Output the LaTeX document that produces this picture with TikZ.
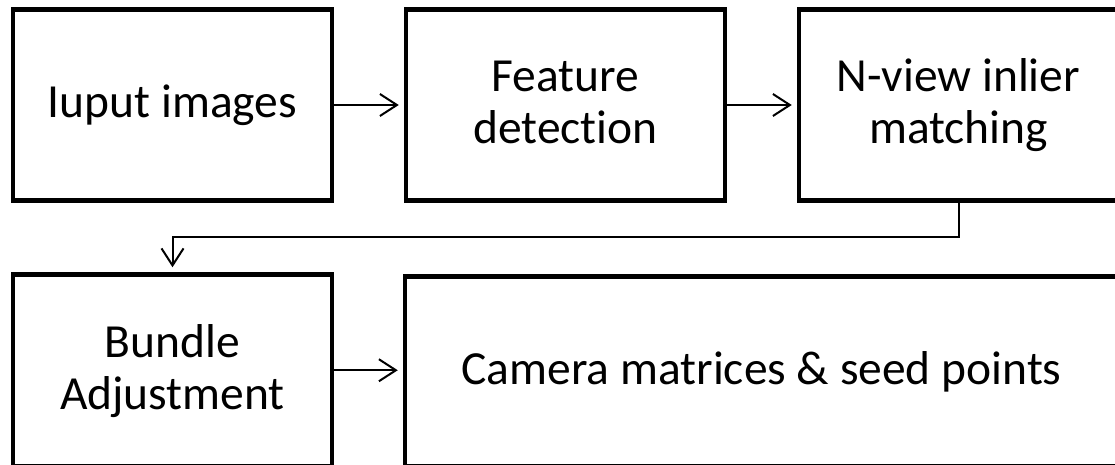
\documentclass[tikz,border=0pt]{standalone}
\usepackage{fontspec}
\setmainfont{Carlito}[Ligatures={NoCommon}]
\usetikzlibrary{arrows.meta}
\newcommand{\lstrut}{\rule[-12pt]{0pt}{50pt}}
\tikzset{
  flowbox/.style={draw=black, line width=4.5pt, rectangle, inner sep=0pt,
    align=center, font=\fontsize{47.5}{52}\selectfont, fill=white},
  conn/.style={draw=black, line width=2pt,
    -{Straight Barb[length=17pt, width=22pt, line width=2pt]}, shorten >=5pt}
}
\begin{document}
\begin{tikzpicture}[x=1pt, y=-1pt]
\useasboundingbox (0,0) rectangle (1115,465);
\fill[white] (0,0) rectangle (1115,465);
\clip (0,0) rectangle (1115,465);
\node[flowbox, minimum width=319pt, minimum height=191pt] (b1) at (172.5,105) {\lstrut Iuput images};
\node[flowbox, minimum width=319pt, minimum height=191pt] (b2) at (565.5,105) {\lstrut Feature\\\lstrut detection};
\node[flowbox, minimum width=319pt, minimum height=191pt] (b3) at (958.5,105) {\lstrut N-view inlier\\\lstrut matching};
\node[flowbox, minimum width=319pt, minimum height=191.5pt] (b4) at (172.5,370.25) {\lstrut Bundle\\\lstrut Adjustment};
\node[flowbox, minimum width=713pt, minimum height=189.5pt] (b5) at (761.5,371.25) {\lstrut Camera matrices \& seed points};
\coordinate (m) at (172.5,237);
\draw[conn] (b1.east) -- (b2.west);
\draw[conn] (b2.east) -- (b3.west);
\draw[conn] (b3.south) |- (m) -- (b4.north);
\draw[conn] (b4.east) -- (b5.west |- b4.east);
\end{tikzpicture}
\end{document}
